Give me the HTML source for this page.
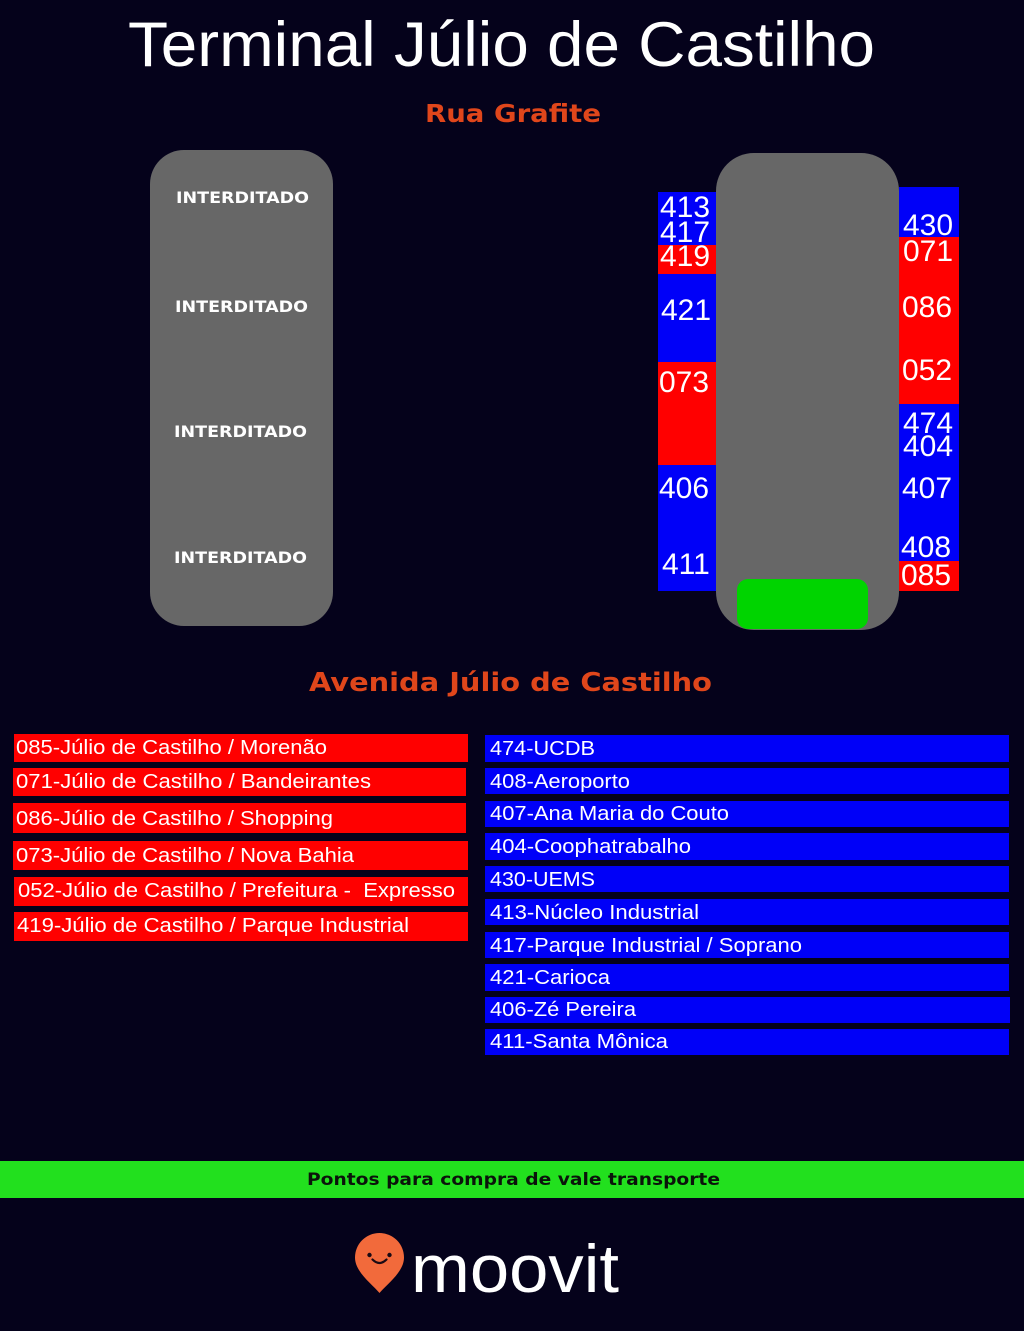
<!DOCTYPE html>
<html>
<head>
<meta charset="utf-8">
<style>
html,body{margin:0;padding:0;background:#05021b;}
body{width:1024px;height:1331px;overflow:hidden;}
svg{display:block;}
.sans{font-family:"Liberation Sans",Arial,sans-serif;}
.bold{font-family:"DejaVu Sans","Liberation Sans",sans-serif;font-weight:bold;}
</style>
</head>
<body>
<svg width="1024" height="1331" viewBox="0 0 1024 1331" xmlns="http://www.w3.org/2000/svg">
  <rect x="0" y="0" width="1024" height="1331" fill="#05021b"/>

  <!-- Title -->
  <text class="sans" x="128" y="66" font-size="63" fill="#ffffff" textLength="747" lengthAdjust="spacingAndGlyphs">Terminal Júlio de Castilho</text>
  <text class="bold" x="425" y="122" font-size="25" fill="#e0461b" textLength="176" lengthAdjust="spacingAndGlyphs">Rua Grafite</text>

  <!-- Left platform -->
  <rect x="150" y="150" width="183" height="476" rx="34" ry="34" fill="#676767"/>
  <text class="bold" x="176" y="203" font-size="16" fill="#ffffff" textLength="133" lengthAdjust="spacingAndGlyphs">INTERDITADO</text>
  <text class="bold" x="175" y="312" font-size="16" fill="#ffffff" textLength="133" lengthAdjust="spacingAndGlyphs">INTERDITADO</text>
  <text class="bold" x="174" y="437" font-size="16" fill="#ffffff" textLength="133" lengthAdjust="spacingAndGlyphs">INTERDITADO</text>
  <text class="bold" x="174" y="563" font-size="16" fill="#ffffff" textLength="133" lengthAdjust="spacingAndGlyphs">INTERDITADO</text>

  <!-- Right platform -->
  <rect x="716" y="153" width="183" height="477" rx="38" ry="38" fill="#676767"/>
  <rect x="737" y="579" width="131" height="50" rx="11" ry="11" fill="#00d400"/>

  <!-- Left column of bays -->
  <rect x="658" y="192" width="58" height="53" fill="#0000f8"/>
  <rect x="658" y="245" width="58" height="29" fill="#ff0000"/>
  <rect x="658" y="274" width="58" height="88" fill="#0000f8"/>
  <rect x="658" y="362" width="58" height="103" fill="#ff0000"/>
  <rect x="658" y="465" width="58" height="126" fill="#0000f8"/>
  <g class="sans" font-size="30" fill="#ffffff">
    <text x="660" y="217">413</text>
    <text x="660" y="242">417</text>
    <text x="660" y="266">419</text>
    <text x="661" y="320">421</text>
    <text x="659" y="392">073</text>
    <text x="659" y="498">406</text>
    <text x="662" y="574">411</text>
  </g>

  <!-- Right column of bays -->
  <rect x="899" y="187" width="60" height="50" fill="#0000f8"/>
  <rect x="899" y="237" width="60" height="167" fill="#ff0000"/>
  <rect x="899" y="404" width="60" height="157" fill="#0000f8"/>
  <rect x="899" y="561" width="60" height="30" fill="#ff0000"/>
  <g class="sans" font-size="30" fill="#ffffff">
    <text x="903" y="235">430</text>
    <text x="903" y="261">071</text>
    <text x="902" y="317">086</text>
    <text x="902" y="380">052</text>
    <text x="903" y="433">474</text>
    <text x="903" y="456">404</text>
    <text x="902" y="498">407</text>
    <text x="901" y="557">408</text>
    <text x="901" y="585">085</text>
  </g>

  <text class="bold" x="309" y="691" font-size="26" fill="#e0461b" textLength="403" lengthAdjust="spacingAndGlyphs">Avenida Júlio de Castilho</text>

  <!-- Red list -->
  <g fill="#ff0000">
    <rect x="14" y="734" width="454" height="28"/>
    <rect x="13" y="768" width="453" height="28"/>
    <rect x="13" y="803" width="453" height="30"/>
    <rect x="13" y="841" width="455" height="29"/>
    <rect x="14" y="877" width="454" height="29"/>
    <rect x="14" y="912" width="454" height="29"/>
  </g>
  <g class="sans" font-size="20" fill="#ffffff">
    <text x="16" y="754" textLength="311" lengthAdjust="spacingAndGlyphs">085-Júlio de Castilho / Morenão</text>
    <text x="16" y="788" textLength="355" lengthAdjust="spacingAndGlyphs">071-Júlio de Castilho / Bandeirantes</text>
    <text x="16" y="825" textLength="317" lengthAdjust="spacingAndGlyphs">086-Júlio de Castilho / Shopping</text>
    <text x="16" y="862" textLength="338" lengthAdjust="spacingAndGlyphs">073-Júlio de Castilho / Nova Bahia</text>
    <text x="18" y="897" textLength="437" lengthAdjust="spacingAndGlyphs" xml:space="preserve">052-Júlio de Castilho / Prefeitura -  Expresso</text>
    <text x="17" y="932" textLength="392" lengthAdjust="spacingAndGlyphs">419-Júlio de Castilho / Parque Industrial</text>
  </g>

  <!-- Blue list -->
  <g fill="#0000f8">
    <rect x="485" y="735" width="524" height="27"/>
    <rect x="485" y="768" width="524" height="26"/>
    <rect x="485" y="801" width="524" height="26"/>
    <rect x="485" y="833" width="524" height="27"/>
    <rect x="485" y="866" width="524" height="26"/>
    <rect x="485" y="899" width="524" height="26"/>
    <rect x="485" y="932" width="524" height="26"/>
    <rect x="485" y="964" width="524" height="27"/>
    <rect x="485" y="997" width="525" height="26"/>
    <rect x="485" y="1029" width="524" height="26"/>
  </g>
  <g class="sans" font-size="20" fill="#ffffff">
    <text x="490" y="755" textLength="105" lengthAdjust="spacingAndGlyphs">474-UCDB</text>
    <text x="490" y="788" textLength="140" lengthAdjust="spacingAndGlyphs">408-Aeroporto</text>
    <text x="490" y="820" textLength="239" lengthAdjust="spacingAndGlyphs">407-Ana Maria do Couto</text>
    <text x="490" y="853" textLength="201" lengthAdjust="spacingAndGlyphs">404-Coophatrabalho</text>
    <text x="490" y="886" textLength="105" lengthAdjust="spacingAndGlyphs">430-UEMS</text>
    <text x="490" y="919" textLength="209" lengthAdjust="spacingAndGlyphs">413-Núcleo Industrial</text>
    <text x="490" y="952" textLength="312" lengthAdjust="spacingAndGlyphs">417-Parque Industrial / Soprano</text>
    <text x="490" y="984" textLength="120" lengthAdjust="spacingAndGlyphs">421-Carioca</text>
    <text x="490" y="1016" textLength="146" lengthAdjust="spacingAndGlyphs">406-Zé Pereira</text>
    <text x="490" y="1048" textLength="178" lengthAdjust="spacingAndGlyphs">411-Santa Mônica</text>
  </g>

  <!-- Green bar -->
  <rect x="0" y="1161" width="1024" height="37" fill="#22e01e"/>
  <text class="bold" x="307" y="1185" font-size="17" fill="#0b140b" textLength="413" lengthAdjust="spacingAndGlyphs">Pontos para compra de vale transporte</text>

  <!-- Moovit logo -->
  <path d="M379.5 1293 C372 1284 355 1272 355 1257.5 A24.5 24.5 0 0 1 404 1257.5 C404 1272 387 1284 379.5 1293 Z" fill="#f26a3b"/>
  <circle cx="369.5" cy="1255" r="2.2" fill="#1a0a14"/>
  <circle cx="389.5" cy="1255" r="2.2" fill="#1a0a14"/>
  <path d="M372.5 1259.5 Q379.5 1266.5 386.5 1259.5" stroke="#1a0a14" stroke-width="2.2" fill="none" stroke-linecap="round"/>
  <text class="sans" x="411" y="1292" font-size="68" fill="#ffffff" textLength="208" lengthAdjust="spacingAndGlyphs">moovit</text>
</svg>
</body>
</html>
